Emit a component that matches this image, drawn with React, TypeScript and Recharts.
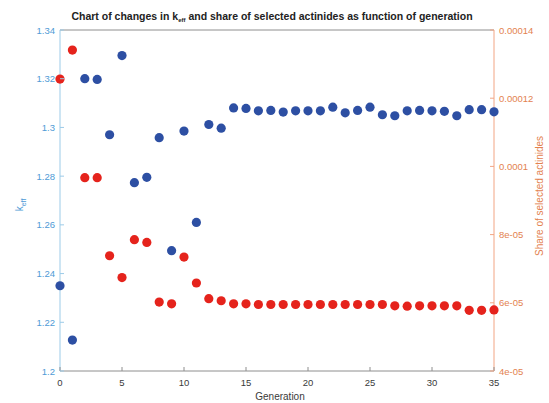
import React from 'react';
import { ScatterChart, Scatter, XAxis, YAxis, ReferenceLine } from 'recharts';

const generations = [0, 1, 2, 3, 4, 5, 6, 7, 8, 9, 10, 11, 12, 13, 14, 15, 16, 17, 18, 19, 20, 21, 22, 23, 24, 25, 26, 27, 28, 29, 30, 31, 32, 33, 34, 35];
const keffValues = [1.235, 1.2127, 1.32, 1.3197, 1.297, 1.3295, 1.2773, 1.2795, 1.2958, 1.2494, 1.2985, 1.261, 1.3012, 1.2997, 1.308, 1.3078, 1.3068, 1.307, 1.3063, 1.3068, 1.3068, 1.3068, 1.3083, 1.306, 1.307, 1.3083, 1.3052, 1.3048, 1.3068, 1.307, 1.3068, 1.3066, 1.3048, 1.3073, 1.3073, 1.3064];
const shareValues = [12.56e-5, 13.41e-5, 9.67e-5, 9.67e-5, 7.38e-5, 6.74e-5, 7.85e-5, 7.77e-5, 6.02e-5, 5.97e-5, 7.34e-5, 6.58e-5, 6.12e-5, 6.06e-5, 5.97e-5, 5.97e-5, 5.95e-5, 5.95e-5, 5.95e-5, 5.95e-5, 5.95e-5, 5.95e-5, 5.95e-5, 5.95e-5, 5.95e-5, 5.95e-5, 5.95e-5, 5.91e-5, 5.9e-5, 5.91e-5, 5.91e-5, 5.91e-5, 5.91e-5, 5.78e-5, 5.78e-5, 5.79e-5];

const xTicks = [0, 5, 10, 15, 20, 25, 30, 35];
const keffTicks = [1.2, 1.22, 1.24, 1.26, 1.28, 1.3, 1.32, 1.34];
const shareTicks = [4e-5, 6e-5, 8e-5, 10e-5, 12e-5, 14e-5];
const shareTickLabels = ['4e-05', '6e-05', '8e-05', '0.0001', '0.00012', '0.00014'];

const keffData = generations.map((g, i) => ({ gen: g, k: keffValues[i] }));
const shareData = generations.map((g, i) => ({ gen: g, share: shareValues[i] }));

const FONT = '"Liberation Sans", Arial, sans-serif';
const BLUE_DOT = '#2d4fa3';
const RED_DOT = '#e5231c';
const LEFT_LINE = '#9ccbe8';
const LEFT_TEXT = '#4f9bd6';
const RIGHT_LINE = '#f2a584';
const RIGHT_TEXT = '#e3824f';
const GRAY_LINE = '#8e8e8e';

const BottomTick = (props: any) => {
  const { x, y, payload } = props;
  return (
    <g>
      <line x1={x} x2={x} y1={y} y2={y - 4} stroke={GRAY_LINE} strokeWidth={1} />
      <text x={x} y={y + 15} textAnchor="middle" fontSize={9.5} fill="#3a3a3a" fontFamily={FONT}>
        {payload.value}
      </text>
    </g>
  );
};

const LeftTick = (props: any) => {
  const { x, y, payload } = props;
  return (
    <g>
      <line x1={x} x2={x + 4} y1={y} y2={y} stroke={LEFT_LINE} strokeWidth={1} />
      <text x={x - 5} y={y + 3.5} textAnchor="end" fontSize={9.5} fill={LEFT_TEXT} fontFamily={FONT}>
        {payload.value}
      </text>
    </g>
  );
};

const RightTick = (props: any) => {
  const { x, y, payload } = props;
  const idx = shareTicks.indexOf(payload.value);
  return (
    <g>
      <line x1={x} x2={x - 4} y1={y} y2={y} stroke={RIGHT_LINE} strokeWidth={1} />
      <text x={x + 5} y={y + 3.5} textAnchor="start" fontSize={9.5} fill={RIGHT_TEXT} fontFamily={FONT}>
        {idx >= 0 ? shareTickLabels[idx] : payload.value}
      </text>
    </g>
  );
};

const BlueDot = (props: any) => <circle cx={props.cx} cy={props.cy} r={4.6} fill={BLUE_DOT} />;
const RedDot = (props: any) => <circle cx={props.cx} cy={props.cy} r={4.6} fill={RED_DOT} />;

export default function App() {
  return (
    <div style={{ position: 'absolute', left: 0, top: 0, width: 549, height: 403, background: '#fff' }}>
      <ScatterChart width={549} height={403} margin={{ top: 30, right: 0, bottom: 0, left: 0 }}>
        <XAxis
          xAxisId="bottom"
          type="number"
          dataKey="gen"
          domain={[0, 35]}
          ticks={xTicks}
          height={32}
          tickSize={0}
          tickMargin={0}
          tickLine={false}
          tick={<BottomTick />}
          axisLine={{ stroke: GRAY_LINE }}
        />
        <YAxis
          yAxisId="left"
          type="number"
          dataKey="k"
          domain={[1.2, 1.34]}
          ticks={keffTicks}
          width={60}
          tickSize={0}
          tickMargin={0}
          tickLine={false}
          tick={<LeftTick />}
          axisLine={{ stroke: LEFT_LINE }}
        />
        <YAxis
          yAxisId="right"
          orientation="right"
          type="number"
          dataKey="share"
          domain={[4e-5, 14e-5]}
          ticks={shareTicks}
          width={55}
          tickSize={0}
          tickMargin={0}
          tickLine={false}
          tick={<RightTick />}
          axisLine={{ stroke: RIGHT_LINE }}
        />
        <ReferenceLine xAxisId="bottom" yAxisId="left" y={1.34} stroke={GRAY_LINE} strokeWidth={1} />
        <Scatter data={keffData} xAxisId="bottom" yAxisId="left" dataKey="k" shape={<BlueDot />} isAnimationActive={false} />
        <Scatter data={shareData} xAxisId="bottom" yAxisId="right" dataKey="share" shape={<RedDot />} isAnimationActive={false} />
      </ScatterChart>
      <svg width={549} height={403} style={{ position: 'absolute', left: 0, top: 0, pointerEvents: 'none' }}>
        <text x={272} y={20} textAnchor="middle" fontSize={10.5} fontWeight="bold" fill="#222" fontFamily={FONT}>
          Chart of changes in k
          <tspan fontSize={6} dy={2}>eff</tspan>
          <tspan dy={-2}> and share of selected actinides as function of generation</tspan>
        </text>
        <text x={0} y={0} transform="translate(23,205) rotate(-90)" textAnchor="middle" fontSize={10} fill={LEFT_TEXT} fontFamily={FONT}>
          k<tspan fontSize={7} dy={3}>eff</tspan>
        </text>
        <text x={0} y={0} transform="translate(543,196) rotate(-90)" textAnchor="middle" fontSize={10} fill={RIGHT_TEXT} fontFamily={FONT}>
          Share of selected actinides
        </text>
        <text x={280} y={400} textAnchor="middle" fontSize={10} fill="#3a3a3a" fontFamily={FONT}>
          Generation
        </text>
      </svg>
    </div>
  );
}
